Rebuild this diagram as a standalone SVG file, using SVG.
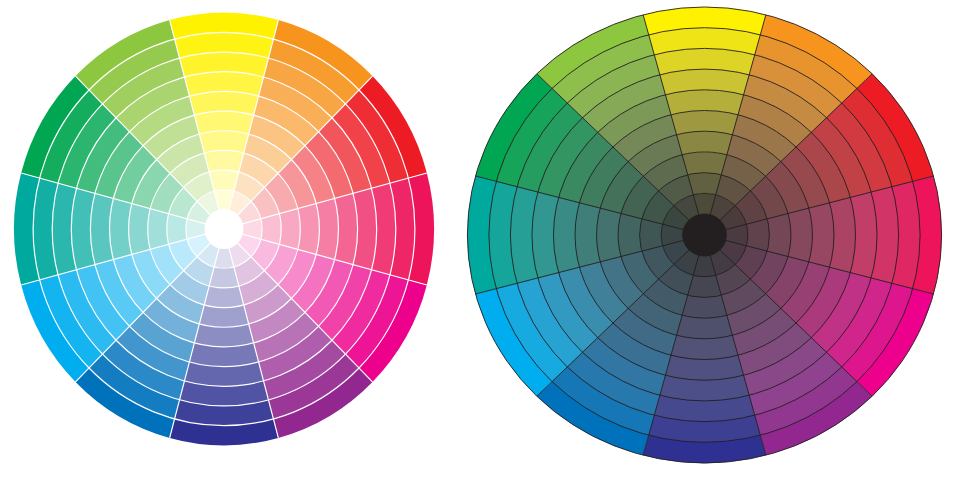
<svg xmlns="http://www.w3.org/2000/svg" width="975" height="482" viewBox="0 0 975 482">
<style>
.wl{fill:none;stroke:#fff;stroke-width:1.2;vector-effect:non-scaling-stroke}
.dl{fill:none;stroke:#231f20;stroke-width:0.9;vector-effect:non-scaling-stroke}
</style>
<defs>
<g id="pie">
<path fill="#fff200" d="M0 0L-25.88 -96.59A100 100 0 0 1 25.88 -96.59Z"/>
<path fill="#f7941d" d="M0 0L25.88 -96.59A100 100 0 0 1 70.71 -70.71Z"/>
<path fill="#ed1c24" d="M0 0L70.71 -70.71A100 100 0 0 1 96.59 -25.88Z"/>
<path fill="#ed145b" d="M0 0L96.59 -25.88A100 100 0 0 1 96.59 25.88Z"/>
<path fill="#ec008c" d="M0 0L96.59 25.88A100 100 0 0 1 70.71 70.71Z"/>
<path fill="#92278f" d="M0 0L70.71 70.71A100 100 0 0 1 25.88 96.59Z"/>
<path fill="#2e3192" d="M0 0L25.88 96.59A100 100 0 0 1 -25.88 96.59Z"/>
<path fill="#0072bc" d="M0 0L-25.88 96.59A100 100 0 0 1 -70.71 70.71Z"/>
<path fill="#00aeef" d="M0 0L-70.71 70.71A100 100 0 0 1 -96.59 25.88Z"/>
<path fill="#00a99d" d="M0 0L-96.59 25.88A100 100 0 0 1 -96.59 -25.88Z"/>
<path fill="#00a651" d="M0 0L-96.59 -25.88A100 100 0 0 1 -70.71 -70.71Z"/>
<path fill="#8dc63f" d="M0 0L-70.71 -70.71A100 100 0 0 1 -25.88 -96.59Z"/>
</g>
<path id="spokes" fill="none" vector-effect="non-scaling-stroke" d="M-25.88 -96.59L25.88 96.59M25.88 -96.59L-25.88 96.59M70.71 -70.71L-70.71 70.71M96.59 -25.88L-96.59 25.88M96.59 25.88L-96.59 -25.88M70.71 70.71L-70.71 -70.71"/>
</defs>

<g id="tint-wheel" transform="translate(224,229) scale(1,1.03)">
<use href="#pie" transform="scale(2.1)"/>
<use href="#pie" transform="scale(1.909)"/><circle r="190.9" fill="#fff" fill-opacity="0.08"/>
<use href="#pie" transform="scale(1.718)"/><circle r="171.8" fill="#fff" fill-opacity="0.17"/>
<use href="#pie" transform="scale(1.527)"/><circle r="152.7" fill="#fff" fill-opacity="0.26"/>
<use href="#pie" transform="scale(1.336)"/><circle r="133.6" fill="#fff" fill-opacity="0.35"/>
<use href="#pie" transform="scale(1.145)"/><circle r="114.5" fill="#fff" fill-opacity="0.45"/>
<use href="#pie" transform="scale(0.954)"/><circle r="95.4" fill="#fff" fill-opacity="0.54"/>
<use href="#pie" transform="scale(0.763)"/><circle r="76.3" fill="#fff" fill-opacity="0.63"/>
<use href="#pie" transform="scale(0.572)"/><circle r="57.2" fill="#fff" fill-opacity="0.73"/>
<use href="#pie" transform="scale(0.381)"/><circle r="38.1" fill="#fff" fill-opacity="0.84"/>
<g id="tint-lines">
<use href="#spokes" transform="scale(2.1)" stroke="#fff" stroke-width="1.2"/>
<circle class="wl" r="190.9"/><circle class="wl" r="171.8"/><circle class="wl" r="152.7"/>
<circle class="wl" r="133.6"/><circle class="wl" r="114.5"/><circle class="wl" r="95.4"/>
<circle class="wl" r="76.3"/><circle class="wl" r="57.2"/><circle class="wl" r="38.1"/>
</g>
<circle r="19.5" fill="#fff"/>
</g>

<g id="shade-wheel" transform="translate(704.5,235) scale(1.04,1)">
<use href="#pie" transform="scale(2.28)"/>
<use href="#pie" transform="scale(2.073)"/><circle r="207.3" fill="#939393" fill-opacity="0.15"/>
<use href="#pie" transform="scale(1.866)"/><circle r="186.6" fill="#888888" fill-opacity="0.28"/>
<use href="#pie" transform="scale(1.659)"/><circle r="165.9" fill="#7d7d7d" fill-opacity="0.40"/>
<use href="#pie" transform="scale(1.452)"/><circle r="145.2" fill="#707070" fill-opacity="0.52"/>
<use href="#pie" transform="scale(1.245)"/><circle r="124.5" fill="#666666" fill-opacity="0.63"/>
<use href="#pie" transform="scale(1.038)"/><circle r="103.8" fill="#5d5d5d" fill-opacity="0.72"/>
<use href="#pie" transform="scale(0.831)"/><circle r="83.1" fill="#545454" fill-opacity="0.80"/>
<use href="#pie" transform="scale(0.624)"/><circle r="62.4" fill="#4a4a4a" fill-opacity="0.87"/>
<use href="#pie" transform="scale(0.417)"/><circle r="41.7" fill="#3e3e3e" fill-opacity="0.93"/>
<g id="shade-lines">
<use href="#spokes" transform="scale(2.28)" stroke="#231f20" stroke-width="0.9"/>
<circle class="dl" r="228"/>
<circle class="dl" r="207.3"/><circle class="dl" r="186.6"/><circle class="dl" r="165.9"/>
<circle class="dl" r="145.2"/><circle class="dl" r="124.5"/><circle class="dl" r="103.8"/>
<circle class="dl" r="83.1"/><circle class="dl" r="62.4"/><circle class="dl" r="41.7"/>
</g>
<circle r="21" fill="#231f20" stroke="#231f20" stroke-width="0.9"/>
</g>
</svg>
